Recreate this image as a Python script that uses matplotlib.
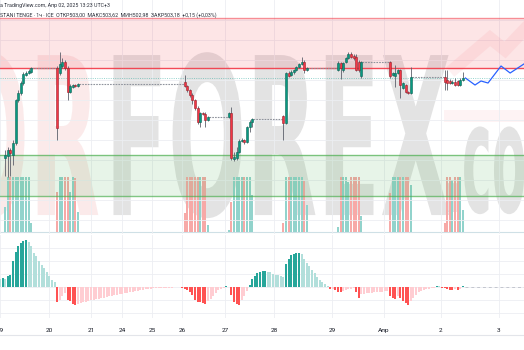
import numpy as np
import matplotlib
matplotlib.use('Agg')
import matplotlib.pyplot as plt
from matplotlib.patheffects import AbstractPathEffect
from matplotlib.transforms import Affine2D
from matplotlib.lines import Line2D

plt.rcParams['font.family'] = ['Roboto', 'DejaVu Sans']

# hourly candles (slot = bar index on the time scale)
slot = (list(range(2, 13)) + list(range(22, 31)) + list(range(71, 81)) + list(range(88, 98))
        + list(range(109, 119)) + list(range(130, 140)) + list(range(150, 159)) + list(range(171, 179)))
open_ = [495.2, 495.4, 496.0, 495.5, 496.7, 501.0, 501.7, 502.7, 503.5, 503.7, 503.8,
         504.2, 503.7, 504.4, 504.8, 504.2, 501.8, 502.3, 502.5, 502.4,
         502.8, 502.4, 502.0, 501.5, 501.0, 500.2, 498.8, 499.7, 499.6, 499.0,
         499.3, 499.7, 495.1, 495.2, 495.8, 496.9, 497.0, 496.8, 498.3, 498.8,
         499.4, 498.7, 503.7, 503.5, 503.8, 504.0, 504.3, 504.6, 504.8, 504.0,
         504.0, 504.7, 504.0, 504.8, 505.2, 505.6, 505.4, 505.3, 504.8, 503.4,
         504.8, 503.5, 503.4, 503.7, 504.0, 502.2, 502.5, 501.8, 501.7,
         503.3, 503.0, 502.9, 502.7, 502.8, 502.9, 502.5, 503.0]
high = [496.0, 496.3, 496.2, 497.0, 501.1, 502.0, 502.9, 503.8, 503.9, 504.1, 504.3,
        504.4, 505.8, 505.2, 505.0, 504.4, 502.6, 502.6, 502.6, 502.7,
        503.5, 502.5, 502.1, 501.7, 501.1, 500.4, 499.8, 499.8, 499.8, 499.4,
        499.8, 500.3, 495.8, 496.3, 497.1, 497.2, 497.1, 498.4, 499.0, 499.2,
        499.5, 503.8, 503.9, 504.0, 504.1, 504.4, 504.7, 505.3, 505.0, 504.3,
        504.9, 504.8, 504.8, 505.3, 505.8, 505.8, 505.6, 505.6, 505.0, 504.9,
        504.9, 503.8, 504.5, 504.1, 504.1, 502.8, 502.6, 501.9, 504.3,
        504.0, 504.0, 503.1, 503.0, 503.2, 503.0, 503.2, 503.8]
low = [493.4, 493.3, 493.4, 494.5, 496.5, 500.8, 501.5, 502.5, 503.4, 503.6, 503.7,
       497.0, 503.5, 504.2, 504.0, 501.0, 501.7, 502.2, 502.3, 502.3,
       502.3, 501.8, 501.3, 500.6, 500.0, 498.6, 498.3, 499.5, 498.3, 498.9,
       499.2, 495.0, 494.9, 495.0, 495.7, 496.8, 496.6, 496.7, 497.8, 498.3,
       497.0, 498.6, 503.3, 503.4, 503.6, 503.9, 504.2, 504.5, 503.7, 503.9,
       503.9, 503.1, 503.8, 504.7, 505.1, 505.2, 505.0, 503.9, 503.8, 503.2,
       503.2, 503.4, 502.3, 503.6, 501.2, 502.1, 501.7, 501.6, 501.6,
       502.0, 502.0, 502.6, 502.6, 502.4, 502.4, 502.4, 502.9]
close = [495.5, 496.0, 495.7, 496.7, 501.0, 501.7, 502.7, 503.6, 503.7, 503.9, 504.2,
         498.2, 504.6, 504.8, 504.2, 501.8, 502.4, 502.5, 502.4, 502.6,
         502.4, 502.0, 501.5, 501.0, 500.2, 498.8, 499.7, 499.6, 499.0, 499.3,
         499.7, 495.2, 495.3, 495.8, 496.9, 497.0, 496.8, 498.3, 498.8, 499.1,
         498.7, 503.7, 503.4, 503.8, 504.0, 504.3, 504.6, 504.8, 504.0, 504.2,
         504.7, 504.2, 504.7, 505.2, 505.6, 505.3, 505.2, 504.0, 504.0, 504.8,
         503.4, 503.7, 503.7, 504.0, 502.5, 502.7, 501.8, 501.7, 503.3,
         502.8, 502.7, 502.7, 502.8, 502.5, 502.5, 503.0, 503.2]
volume = [45, 100, 100, 100, 100, 100, 100, 100, 100, 100, 17,
          73, 100, 100, 100, 100, 73, 100, 98, 36,
          35, 100, 100, 100, 100, 100, 100, 100, 100, 13,
          4, 55, 100, 100, 100, 100, 100, 100, 100, 67,
          16, 100, 100, 100, 100, 100, 100, 100, 93, 49,
          10, 100, 100, 100, 91, 100, 100, 100, 100, 30,
          71, 100, 100, 100, 100, 100, 100, 100, 85,
          16, 100, 100, 95, 100, 100, 100, 40]

# MACD histogram, one value per slot from 0
hist = [8, 8.7, 8.5, 11, 12, 26, 35, 41, 44, 46, 47, 45, 41, 34, 31, 26, 22, 19, 15, 11, 7, 5,
        -15, -13, -9, -6, -13, -14, -17, -17.5, -17, -16, -15, -14.5, -14, -13, -12.5, -12, -11.5,
        -11, -10.5, -10, -9, -8.5, -8, -7.5, -7, -6.5, -6, -5.5, -5, -4.5, -4, -3.5, -3, -2.7,
        -2.3, -2, -1.7, -1.4, -1.2, -1.0, -0.9, -0.8, -0.7, -0.6, -0.5, -0.4, -0.35, -0.3,
        -1, -2, -3, -5, -8, -13, -15, -15.3, -16, -17, -14, -12, -9, -6, -3, -2, -1, 1, 0.3,
        -8, -15, -17, -18, -13, -9, -4, 2, 8, 11, 14, 15,
        16, 16.5, 15, 14.7, 13.5, 12.5, 12, 11, 10, 23, 28, 32, 33, 34, 34.5, 33, 28, 24, 21,
        17, 14, 10, 7, 5, 3, 1, -2, -1.5, -3, -5, -5.3, -4, -3, -2, -1.5, -1.2, -5, -11, -7,
        -6.5, -6.2, -6, -5.7, -5.4, -5.1, -4.8, -4.5, -4.2, -4.0, -9, -11, -12, -9, -11, -14,
        -16, -18, -14, -11, -8, -5, -4, -3, -2, -1.5, -1, -0.5, 1, 0.8, -0.5, -1, -2, -3,
        -3.2, -2, -3, -2, 1]
hist = [h / 100 for h in hist]

# projection line drawn on the right
fc_slot = [179, 182.7, 185, 187.7, 192.7, 196.2, 201.5]
fc_price = [503.2, 502.5, 502.9, 502.7, 504.4, 503.7, 504.6]

# zones: (low, high)
red_zone = (504.2, 509.2)
green_zone = (491.4, 495.5)

tick_slots = [0, 18.8, 35, 46.9, 58.5, 70, 86.5, 105.4, 127.7, 147.7, 169.6, 191.9]
tick_labels = ['19', '20', '21', '24', '25', '26', '27', '28', '29', 'Апр', '2', '3']

header1 = 'а TradingView.com, Апр 02, 2025 13:23 UTC+3'
header2 = 'STANI TENGE · 1ч · ICE  ОТКР503,00  МАКС503,62  МИН502,98  ЗАКР503,18  +0,15 (+0,03%)'


class Squash(AbstractPathEffect):
    # narrows the glyphs horizontally (logo watermark is condensed)
    def __init__(self, sx):
        super().__init__()
        self.sx = sx

    def draw_path(self, renderer, gc, tpath, affine, rgbFace=None):
        renderer.draw_path(gc, tpath, Affine2D().scale(self.sx, 1) + affine, rgbFace)


slot = np.array(slot)
o = np.array(open_); h = np.array(high); l = np.array(low); c = np.array(close)
up = c >= o

fig = plt.figure(figsize=(5.24, 3.5), dpi=100)
fig.patch.set_facecolor('white')

ax_vol = fig.add_axes([0, 116 / 350, 1, 234 / 350])
ax = fig.add_axes([0, 116 / 350, 1, 234 / 350], sharex=ax_vol)
ax.set_facecolor('none')
ax_m = fig.add_axes([0, 32 / 350, 1, 83 / 350], sharex=ax_vol)

xmax = 524 / 2.6
ax_vol.set_xlim(0, xmax)

# watermark
ax_vol.text(0.2004, 0.081, 'FOREX', transform=ax_vol.transAxes, family='DejaVu Sans',
            weight='bold', fontsize=158, color='#bdbdbd', alpha=0.42,
            path_effects=[Squash(0.42)], zorder=0)
ax_vol.text(-0.214, 0.081, 'FOR', transform=ax_vol.transAxes, family='DejaVu Sans',
            weight='bold', fontsize=158, color='#ef9a9a', alpha=0.2,
            path_effects=[Squash(0.42)], zorder=0)
ax_vol.text(0.845, 0.094, '.com', transform=ax_vol.transAxes, family='DejaVu Sans',
            weight='bold', fontsize=110, color='#bdbdbd', alpha=0.42,
            path_effects=[Squash(0.33)], zorder=0)
ax_vol.add_patch(plt.Rectangle((0.847, (234 - 122) / 234), 0.16, 12 / 234,
                               transform=ax_vol.transAxes, color='#f23645', alpha=0.06, lw=0))
ax.plot([455 / 524, 490 / 524, 505 / 524, 1.0],
        [(234 - 68) / 234, (234 - 38) / 234, (234 - 50) / 234, (234 - 30) / 234],
        transform=ax.transAxes, color='#f23645', alpha=0.07, lw=9, solid_joinstyle='miter')

# volume overlay
vcol = np.where(up, '#92d3cc', '#f7a9a7')
ax_vol.bar(slot, volume, width=0.82, color=vcol, lw=0, zorder=2)
ax_vol.axhline(0, color='#cfe0e6', lw=0.8, zorder=1)
ax_vol.set_ylim(-2 / 55 * 100, 232 / 55 * 100)

# zones
ax.axhspan(*red_zone, color='#f23645', alpha=0.13, lw=0, zorder=1)
ax.axhline(red_zone[1], color='#f23645', alpha=0.5, lw=1.0, zorder=1.5)
ax.axhline(red_zone[0], color='#f23645', alpha=0.9, lw=1.0, zorder=1.5)
ax.axhspan(*green_zone, color='#4caf50', alpha=0.13, lw=0, zorder=1)
ax.axhline(green_zone[1], color='#4caf50', alpha=0.7, lw=1.0, zorder=1.5)
ax.axhline(green_zone[0], color='#4caf50', alpha=0.7, lw=1.0, zorder=1.5)

# last price line
ax.axhline(c[-1], color='#26a69a', alpha=0.55, lw=0.6, ls=(0, (1.2, 1.5)), zorder=1.6)

# dashed lines across the no-trade gaps
gaps = np.where(np.diff(slot) > 1)[0]
ax.hlines(c[gaps], slot[gaps] + 0.4, slot[gaps + 1] - 0.4, colors='#8f939c',
          lw=0.8, linestyles=(0, (1.5, 1)), zorder=2)

# candles
ax.vlines(slot, l, h, color='#5d606b', lw=0.6, zorder=3)
body = np.maximum(np.abs(c - o), 0.06)
ax.bar(slot, body, bottom=np.minimum(o, c), width=0.8,
       color=np.where(up, '#089981', '#f23645'),
       edgecolor=np.where(up, '#0a6455', '#99202b'), lw=0.4, zorder=4)

ax.plot(fc_slot, fc_price, color='#2962ff', lw=0.9, zorder=4)

ax.set_ylim(487.6, 511.0)
ax.set_yticks(np.arange(489, 511, 2))
ax.grid(True, color='#eceef2', lw=0.6)
ax.set_axisbelow(True)

# MACD histogram
hv = np.array(hist)
prev = np.concatenate([[hv[0]], hv[:-1]])
mcol = np.where(hv >= 0, np.where(prev < hv, '#26a69a', '#b2dfdb'),
                np.where(prev < hv, '#ffcdd2', '#ff5252'))
ax_m.bar(np.arange(len(hv)), hv, width=0.8, color=mcol, lw=0, zorder=2)
ax_m.hlines(0, len(hv), xmax, colors='#c3c6ce', lw=0.7, linestyles=(0, (3, 3)))
ax_m.set_ylim(-0.31, 0.52)
ax_m.set_yticks([-0.26, -0.13, 0, 0.13, 0.26, 0.39])
ax_m.grid(True, color='#eceef2', lw=0.6)
ax_m.set_axisbelow(True)

ax_m.set_xticks(tick_slots)
ax_m.set_xticklabels(tick_labels)

for a in (ax_vol, ax, ax_m):
    for s in a.spines.values():
        s.set_visible(False)
    a.tick_params(length=0, labelleft=False, labelbottom=False)
ax_vol.grid(False)
ax_vol.tick_params(left=False)
ax_m.tick_params(labelbottom=True, labelsize=4.6, labelcolor='#131722', pad=7)

fig.text(0.0, 1 - 5 / 350, header1, fontsize=3.8, color='#2a2e39', va='center')
fig.text(0.0, 1 - 15.5 / 350, header2, fontsize=3.8, color='#2a2e39', va='center')
fig.add_artist(Line2D([0, 1], [15 / 350, 15 / 350], transform=fig.transFigure,
                      color='#e3e5ea', lw=0.8))

fig.savefig('out.png', dpi=100)
